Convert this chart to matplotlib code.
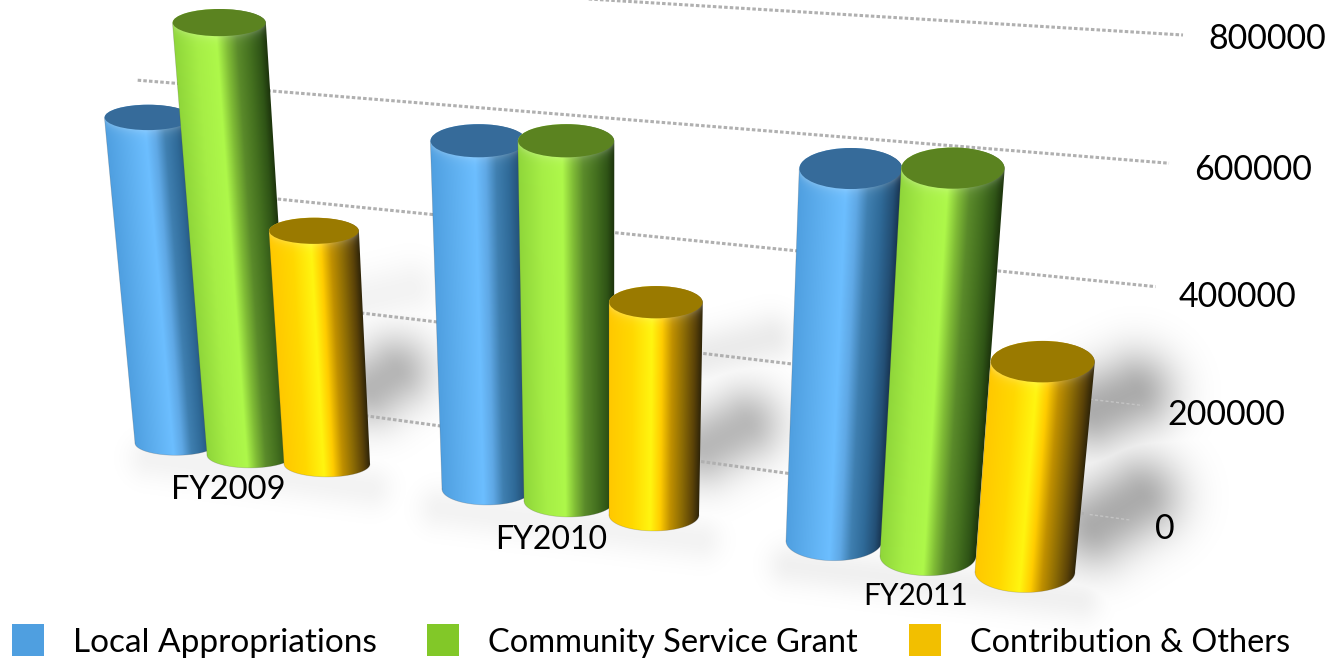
import numpy as np
import matplotlib
matplotlib.use("Agg")
import matplotlib.pyplot as plt
from matplotlib.colors import to_rgb
from matplotlib.patches import Ellipse, PathPatch, Rectangle
from matplotlib.path import Path

# ---- data ----
categories = ["FY2009", "FY2010", "FY2011"]
series = ["Local Appropriations", "Community Service Grant", "Contribution & Others"]
local_appropriations = [542000, 552000, 555000]
community_service_grant = [720000, 571000, 578000]
contribution_others = [388000, 337000, 313000]
axis_ticks = [0, 200000, 400000, 600000, 800000]

# ---- layout: 3-D look (pixel space) ----
W, H = 1340, 662
VP = (610.0, 5500.0)                       # vanishing point of the upright edges
group_scale = [0.60, 0.63, 0.67]           # px per 1000 units, per group
group_ratio = [0.30, 0.355, 0.41]          # ellipse flatness, per group
base_x = [[176, 250, 327], [487, 569, 654], [834, 928, 1025]]
base_y = [[443, 455, 464], [489, 501, 515], [541, 556, 572]]
base_rx = [[41, 43, 43], [45, 45, 45], [48, 48, 50]]
wall = {(0, 0): (162, 388), (1, 0): (1130, 520), (0, 1): (143, -28), (1, 1): (1183, 35)}
tick_dx = [25, 25, 23, 25, 25]
tick_dy = [9, 10, 10, 7, 4]
cat_label_xy = [(228, 488), (551, 538), (916, 594)]
cat_label_size = [23.5, 23, 21.5]
legend_sq_x = [12, 427, 909]
legend_tx_x = [73, 488, 970]
legend_size = [24, 23.5, 23.3]

ramp_pos = [-1.0, -0.5, -0.08, 0.14, 0.36, 0.62, 0.85, 1.0]
ramps = [
    ["#4f9fe0", "#5fb0f0", "#6cbeff", "#5fa8e5", "#3f7fb0", "#2f6a98", "#234f75", "#16304c"],
    ["#8fd63a", "#a6ee46", "#aef84a", "#80bc36", "#5a8a2a", "#44701f", "#2f5416", "#1c330c"],
    ["#ffc800", "#ffd800", "#fff510", "#ffcc00", "#c09000", "#8a6a05", "#5a4208", "#2e2408"],
]
top_colors = ["#366b9a", "#5b8320", "#9a7a00"]
legend_colors = ["#4f9fe0", "#82c828", "#f2bf00"]
shadow_segments = [
    ((372, 388), (395, 372), 27, 0.29), ((360, 300), (410, 288), 20, 0.05),
    ((150, 458), (370, 488), 16, 0.05),
    ((705, 447), (745, 425), 27, 0.28), ((705, 355), (770, 338), 18, 0.08),
    ((440, 508), (700, 540), 16, 0.05),
    ((1095, 410), (1135, 392), 29, 0.33), ((1095, 525), (1140, 497), 30, 0.33),
    ((790, 565), (1080, 600), 16, 0.06),
]

plt.rcParams["font.family"] = ["Lato", "DejaVu Sans"]
fig = plt.figure(figsize=(W / 100, H / 100), dpi=100, facecolor="white")
ax = fig.add_axes([0, 0, 1, 1])
ax.set_axis_off()


def homography(corners):
    A, b = [], []
    for (u, v), (x, y) in corners.items():
        A.append([u, v, 1, 0, 0, 0, -u * x, -v * x]); b.append(x)
        A.append([0, 0, 0, u, v, 1, -u * y, -v * y]); b.append(y)
    return np.append(np.linalg.solve(np.array(A, float), np.array(b, float)), 1).reshape(3, 3)


HM = homography(wall)
VMAX = max(axis_ticks)


def wall_xy(u, value):
    u = np.asarray(u, float)
    v = value / VMAX * np.ones_like(u)
    p = HM @ np.vstack([u, v, np.ones_like(u)])
    return p[0] / p[2], p[1] / p[2]


# shadows
yy, xx = np.mgrid[0:H, 0:W] + 0.5
alpha = np.zeros((H, W))
for (a, b, sig, peak) in shadow_segments:
    a, b = np.array(a, float), np.array(b, float)
    d = b - a
    t = np.clip(((xx - a[0]) * d[0] + (yy - a[1]) * d[1]) / (d @ d), 0, 1)
    dist2 = (xx - a[0] - t * d[0]) ** 2 + (yy - a[1] - t * d[1]) ** 2
    alpha = np.maximum(alpha, peak * np.exp(-dist2 / (2 * sig ** 2)))
shadow = np.zeros((H, W, 4))
shadow[..., 3] = alpha
ax.imshow(shadow, extent=[0, W, H, 0], aspect="auto", zorder=1, interpolation="bilinear")

# gridlines
uu = np.linspace(-0.012, 1, 200)
dots = (0, (1.15, 0.7))
for i, val in enumerate(axis_ticks):
    gx, gy = wall_xy(uu, val)
    if val <= 200000:
        keep = gx < 1085
        ax.plot(gx[keep], gy[keep], color="#b0b0b0", lw=2.2, ls=dots, zorder=2)
        ax.plot(gx[~keep], gy[~keep], color="#c4c4c4", lw=1.0, ls=(0, (2.2, 1.6)), zorder=2)
    else:
        ax.plot(gx, gy, color="#b0b0b0", lw=2.2, ls=dots, zorder=2)
    ex, ey = wall_xy(np.array([1.0]), val)
    ax.text(ex[0] + tick_dx[i], ey[0] + tick_dy[i], str(val),
            fontsize=24.5, color="black", ha="left", va="center", zorder=6)


def cylinder(bx, by, brx, ratio, height, ramp, top_color, z):
    def at(y):
        k = (VP[1] - y) / (VP[1] - by)
        return VP[0] + (bx - VP[0]) * k, brx * k
    ty = by - height
    tx, trx = at(ty)
    bry, try_ = brx * ratio, trx * ratio
    # body image
    x0, x1 = int(min(bx - brx, tx - trx)) - 2, int(max(bx + brx, tx + trx)) + 3
    y0, y1 = int(ty - try_) - 2, int(by + bry) + 3
    ys, xs = np.mgrid[y0:y1:0.5, x0:x1:0.5]
    ys, xs = ys + 0.25, xs + 0.25
    cx, rx = at(ys)
    s = np.clip((xs - cx) / rx, -1, 1)
    rgb = np.dstack([np.interp(s, ramp_pos, [to_rgb(c)[i] for c in ramp]) for i in range(3)])
    front = ty + rx * ratio * 0.9 * np.sqrt(np.clip(1 - s ** 2, 0, 1))
    glow = 0.22 * np.exp(-np.clip(ys - front, 0, None) / 4.5)[..., None]
    rgb = rgb * (1 - glow) + glow
    im = ax.imshow(rgb, extent=[x0, x1, y1, y0], aspect="auto", zorder=z, interpolation="bilinear")
    th = np.linspace(0, np.pi, 60)
    upper = np.c_[tx - trx * np.cos(th), ty - try_ * np.sin(th)]
    lower = np.c_[bx + brx * np.cos(th), by + bry * np.sin(th)]
    verts = np.vstack([upper, lower, upper[:1]])
    path = Path(verts, [Path.MOVETO] + [Path.LINETO] * (len(verts) - 2) + [Path.CLOSEPOLY])
    clip = PathPatch(path, transform=ax.transData, fc="none", ec="none")
    ax.add_patch(clip)
    im.set_clip_path(clip)
    ax.plot(lower[:, 0], lower[:, 1], color="#44444440", lw=0.5, zorder=z)
    ax.plot([upper[0, 0], lower[-1, 0]], [upper[0, 1], lower[-1, 1]], color="#44444440", lw=0.5, zorder=z)
    ax.add_patch(Ellipse((tx, ty - try_ * 0.03), 2 * trx * 0.995, 2 * try_ * 0.97, fc=top_color, ec="none", zorder=z))


values = [local_appropriations, community_service_grant, contribution_others]
z = 3.0
for g in range(len(categories)):
    for s_i in range(len(series)):
        h = values[s_i][g] / 1000 * group_scale[g]
        cylinder(base_x[g][s_i], base_y[g][s_i], base_rx[g][s_i], group_ratio[g], h,
                 ramps[s_i], top_colors[s_i], z)
        z += 0.01
    lx, ly = cat_label_xy[g]
    ax.text(lx, ly + 2, categories[g], fontsize=cat_label_size[g], color="black", ha="center", va="center", zorder=6)

# legend
for i, name in enumerate(series):
    ax.add_patch(Rectangle((legend_sq_x[i], 624), 32, 32, fc=legend_colors[i], ec="none", zorder=6))
    ax.text(legend_tx_x[i], 643, name, fontsize=legend_size[i], color="black", ha="left", va="center", zorder=6)

ax.set_xlim(0, W)
ax.set_ylim(H, 0)
fig.savefig("out.png", dpi=100, facecolor="white")
